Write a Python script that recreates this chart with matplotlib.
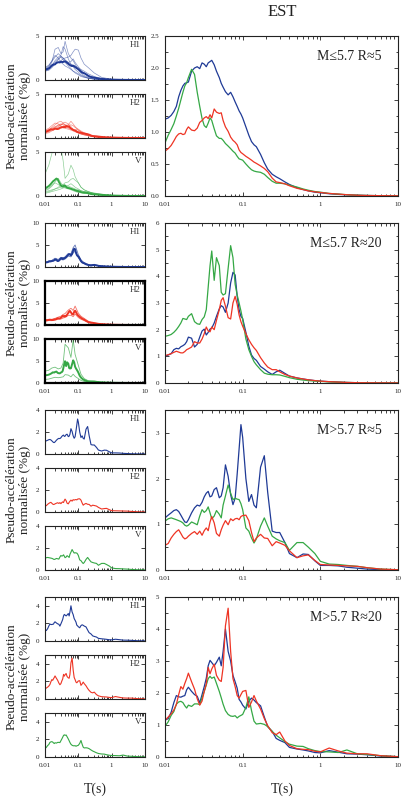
import matplotlib.pyplot as plt
from matplotlib.ticker import LogLocator, NullFormatter, MultipleLocator

plt.rcParams['font.family'] = ['Liberation Serif', 'DejaVu Serif']

# periods (s)
T = [0.01, 0.011, 0.012, 0.013, 0.014, 0.015, 0.016, 0.017, 0.018, 0.019,
     0.02, 0.022, 0.024, 0.026, 0.028, 0.03, 0.032, 0.034, 0.036, 0.038,
     0.04, 0.043, 0.046, 0.05, 0.053, 0.056, 0.06, 0.065, 0.07, 0.075,
     0.08, 0.085, 0.09, 0.095, 0.1, 0.11, 0.12, 0.13, 0.14, 0.15,
     0.17, 0.19, 0.21, 0.24, 0.27, 0.3, 0.35, 0.4, 0.5, 0.6,
     0.7, 0.85, 1.0, 1.3, 1.7, 2.2, 3, 4, 6, 10]

# coarse periods for single records / bands
Tc = [0.01, 0.013, 0.016, 0.02, 0.025, 0.03, 0.035, 0.04, 0.05, 0.06, 0.07,
      0.08, 0.1, 0.12, 0.15, 0.2, 0.3, 0.5, 1, 2, 5, 10]

# ---- M<=5.7 R~5
g1_h1 = [1.20, 1.22, 1.26, 1.32, 1.40, 1.55, 1.65, 1.72, 1.76, 1.77,
         1.78, 1.95, 2.00, 2.02, 1.99, 2.08, 2.06, 2.02, 2.08, 2.10,
         2.12, 2.05, 1.95, 1.85, 1.76, 1.70, 1.63, 1.58, 1.62, 1.55,
         1.47, 1.40, 1.33, 1.28, 1.22, 1.08, 0.95, 0.85, 0.80, 0.77,
         0.65, 0.52, 0.42, 0.34, 0.30, 0.27, 0.22, 0.18, 0.13, 0.10,
         0.08, 0.06, 0.05, 0.035, 0.025, 0.018, 0.012, 0.008, 0.005, 0.003]
g1_h2 = [0.70, 0.74, 0.79, 0.86, 0.93, 0.97, 0.98, 0.96, 0.97, 1.04,
         1.08, 1.03, 1.02, 1.06, 1.15, 1.18, 1.22, 1.24, 1.21, 1.27,
         1.22, 1.36, 1.31, 1.29, 1.30, 1.18, 1.08, 1.01, 0.92, 0.87,
         0.84, 0.80, 0.72, 0.68, 0.66, 0.62, 0.59, 0.56, 0.53, 0.51,
         0.47, 0.43, 0.38, 0.28, 0.22, 0.21, 0.19, 0.16, 0.12, 0.10,
         0.08, 0.065, 0.055, 0.04, 0.03, 0.02, 0.012, 0.008, 0.005, 0.003]
g1_v = [0.83, 0.95, 1.04, 1.13, 1.25, 1.37, 1.50, 1.62, 1.72, 1.77,
        1.85, 1.98, 1.90, 1.62, 1.40, 1.21, 1.10, 1.07, 1.14, 1.22,
        1.18, 1.05, 0.94, 0.90, 0.90, 0.87, 0.82, 0.78, 0.74, 0.70,
        0.67, 0.62, 0.58, 0.57, 0.56, 0.50, 0.45, 0.41, 0.39, 0.38,
        0.37, 0.34, 0.29, 0.23, 0.20, 0.20, 0.19, 0.17, 0.14, 0.11,
        0.09, 0.07, 0.06, 0.04, 0.03, 0.02, 0.012, 0.008, 0.005, 0.003]

# single records, M<=5.7 R~5
rec_h1 = [
    [1.2, 1.5, 2.0, 3.5, 3.7, 3.0, 3.2, 4.4, 3.0, 2.5, 2.2, 1.8, 1.2, 0.8, 0.5, 0.3, 0.15, 0.08, 0.03, 0.01, 0, 0],
    [1.0, 1.2, 1.6, 2.2, 2.6, 2.8, 3.8, 3.5, 2.4, 1.8, 1.5, 1.2, 0.9, 0.6, 0.4, 0.2, 0.1, 0.05, 0.02, 0.01, 0, 0],
    [1.1, 1.3, 1.5, 1.8, 2.0, 2.2, 2.4, 2.5, 2.6, 2.8, 3.2, 3.5, 3.4, 2.5, 1.8, 1.4, 0.8, 0.3, 0.08, 0.02, 0, 0],
    [1.3, 1.6, 2.2, 2.8, 2.5, 2.0, 1.8, 1.6, 1.4, 1.2, 1.0, 0.9, 0.7, 0.5, 0.35, 0.2, 0.1, 0.05, 0.02, 0.01, 0, 0],
    [1.0, 1.1, 1.4, 1.8, 2.3, 2.7, 2.5, 2.2, 2.0, 2.1, 2.4, 2.0, 1.5, 1.1, 0.8, 0.5, 0.3, 0.12, 0.04, 0.01, 0, 0],
    [1.2, 1.4, 1.7, 2.0, 2.4, 2.6, 2.3, 2.0, 1.6, 1.3, 1.0, 0.8, 0.6, 0.4, 0.3, 0.2, 0.1, 0.05, 0.02, 0.01, 0, 0],
    [1.4, 1.7, 2.1, 2.6, 3.0, 2.7, 2.5, 2.3, 2.0, 1.8, 1.7, 1.6, 1.4, 1.2, 1.0, 0.7, 0.4, 0.15, 0.04, 0.01, 0, 0],
]
rec_h2 = [
    [0.7, 0.9, 1.2, 1.5, 1.8, 1.9, 1.7, 1.5, 1.3, 1.1, 0.9, 0.8, 0.6, 0.5, 0.4, 0.3, 0.15, 0.08, 0.03, 0.01, 0, 0],
    [0.8, 1.0, 1.1, 1.3, 1.4, 1.5, 1.7, 1.8, 1.6, 1.3, 1.0, 0.8, 0.6, 0.45, 0.35, 0.25, 0.12, 0.05, 0.02, 0.01, 0, 0],
    [0.5, 0.6, 0.8, 1.0, 1.2, 1.3, 1.3, 1.4, 1.5, 1.9, 1.6, 1.3, 0.9, 0.7, 0.5, 0.35, 0.2, 0.08, 0.03, 0.01, 0, 0],
    [0.6, 0.8, 1.0, 1.2, 1.5, 1.6, 1.5, 1.3, 1.1, 1.0, 0.9, 1.0, 0.9, 0.7, 0.5, 0.3, 0.15, 0.06, 0.02, 0.01, 0, 0],
    [0.9, 1.1, 1.4, 1.7, 1.6, 1.4, 1.2, 1.1, 1.0, 0.9, 0.8, 0.7, 0.55, 0.45, 0.35, 0.25, 0.12, 0.05, 0.02, 0.01, 0, 0],
    [0.6, 0.7, 0.9, 1.1, 1.3, 1.5, 1.6, 1.5, 1.4, 1.5, 1.4, 1.2, 1.0, 0.8, 0.6, 0.4, 0.2, 0.08, 0.03, 0.01, 0, 0],
]
rec_v = [
    [2.5, 3.5, 4.8, 6.0, 6.5, 5.5, 4.0, 2.0, 2.5, 3.5, 3.0, 2.2, 1.5, 1.0, 0.7, 0.5, 0.25, 0.1, 0.03, 0.01, 0, 0],
    [0.6, 0.8, 1.1, 1.6, 2.0, 1.5, 1.2, 1.0, 0.9, 0.8, 0.7, 0.6, 0.5, 0.4, 0.35, 0.3, 0.15, 0.06, 0.02, 0.01, 0, 0],
    [0.4, 0.5, 0.6, 0.8, 1.0, 1.2, 1.3, 1.5, 1.6, 1.9, 2.0, 1.8, 1.5, 1.0, 0.7, 0.5, 0.3, 0.15, 0.05, 0.01, 0, 0],
    [0.5, 0.6, 0.7, 0.8, 0.9, 1.0, 1.1, 1.2, 1.1, 1.0, 0.9, 0.8, 0.7, 0.6, 0.5, 0.45, 0.35, 0.2, 0.08, 0.02, 0, 0],
    [0.7, 0.9, 1.2, 1.5, 1.3, 1.1, 1.0, 0.9, 0.8, 0.7, 0.6, 0.5, 0.4, 0.35, 0.3, 0.25, 0.15, 0.07, 0.02, 0.01, 0, 0],
    [0.3, 0.4, 0.5, 0.6, 0.7, 0.8, 0.9, 1.0, 1.2, 1.4, 1.2, 1.0, 0.8, 0.6, 0.5, 0.4, 0.25, 0.1, 0.03, 0.01, 0, 0],
]

# ---- M<=5.7 R~20
g2_h1 = [1.00, 1.05, 1.10, 1.25, 1.30, 1.28, 1.36, 1.40, 1.45, 1.55,
         1.72, 1.68, 1.35, 1.45, 1.72, 1.95, 2.02, 1.80, 1.90, 2.02,
         2.06, 2.25, 2.50, 2.78, 2.90, 2.85, 2.65, 3.00, 3.75, 4.15,
         4.05, 3.25, 2.75, 2.50, 2.42, 1.90, 1.38, 1.05, 0.92, 0.85,
         0.62, 0.52, 0.42, 0.32, 0.42, 0.48, 0.36, 0.26, 0.19, 0.15,
         0.12, 0.09, 0.07, 0.05, 0.035, 0.02, 0.012, 0.008, 0.005, 0.003]
g2_h2 = [1.03, 1.06, 1.10, 1.15, 1.19, 1.16, 1.13, 1.13, 1.18, 1.25,
         1.28, 1.35, 1.55, 1.50, 1.50, 1.65, 1.85, 2.10, 1.95, 1.92,
         2.10, 2.00, 2.35, 2.75, 3.10, 3.20, 2.88, 2.45, 2.40, 3.00,
         3.25, 2.95, 2.55, 2.30, 2.13, 1.85, 1.62, 1.45, 1.32, 1.22,
         0.95, 0.75, 0.60, 0.50, 0.50, 0.42, 0.32, 0.26, 0.19, 0.15,
         0.12, 0.09, 0.07, 0.05, 0.035, 0.02, 0.012, 0.008, 0.005, 0.003]
g2_v = [1.75, 1.78, 1.82, 1.90, 2.00, 2.12, 2.25, 2.42, 2.40, 2.38,
        2.50, 2.60, 2.30, 2.22, 2.20, 2.38, 2.48, 2.75, 3.60, 4.40,
        4.95, 3.85, 4.70, 4.40, 3.40, 3.30, 3.35, 4.30, 5.15, 4.70,
        3.70, 3.30, 3.00, 2.70, 2.38, 1.65, 1.25, 1.00, 0.80, 0.68,
        0.50, 0.37, 0.33, 0.31, 0.31, 0.30, 0.25, 0.20, 0.14, 0.11,
        0.09, 0.07, 0.06, 0.04, 0.03, 0.02, 0.012, 0.008, 0.005, 0.003]

# upper / lower curves, M<=5.7 R~20
g2_h1_up = [1.1, 1.35, 1.5, 2.0, 1.7, 2.2, 2.1, 2.3, 3.1, 3.0, 4.4, 5.0, 2.8, 1.6, 1.0, 0.55, 0.55, 0.23, 0.09, 0.04, 0.01, 0.005]
g2_h1_lo = [0.9, 1.15, 1.25, 1.5, 1.25, 1.7, 1.6, 1.8, 2.5, 2.3, 3.2, 3.6, 2.1, 1.2, 0.75, 0.38, 0.42, 0.16, 0.06, 0.025, 0.005, 0.002]
g2_h2_up = [1.15, 1.3, 1.3, 1.5, 1.8, 2.0, 2.4, 2.6, 3.4, 3.8, 3.3, 4.3, 2.7, 2.0, 1.5, 0.85, 0.5, 0.23, 0.09, 0.04, 0.01, 0.005]
g2_h2_lo = [0.9, 1.0, 0.98, 1.1, 1.3, 1.35, 1.6, 1.7, 2.2, 2.2, 1.9, 2.5, 1.7, 1.3, 1.0, 0.58, 0.35, 0.16, 0.06, 0.025, 0.005, 0.002]
g2_v_up = [2.7, 2.9, 3.4, 3.6, 3.2, 3.4, 4.5, 8.8, 8.0, 5.8, 9.8, 6.5, 4.0, 2.0, 1.0, 0.5, 0.45, 0.2, 0.09, 0.04, 0.01, 0.005]
g2_v_lo = [0.8, 0.9, 1.1, 1.3, 1.2, 1.3, 1.4, 1.9, 1.8, 1.4, 2.0, 1.5, 1.0, 0.6, 0.35, 0.18, 0.15, 0.07, 0.03, 0.015, 0.003, 0.001]

# ---- M>5.7 R~5
g3_h1 = [1.14, 1.20, 1.25, 1.30, 1.32, 1.28, 1.20, 1.12, 1.05, 1.04,
         1.10, 1.25, 1.36, 1.42, 1.40, 1.48, 1.60, 1.68, 1.72, 1.60,
         1.62, 1.76, 1.80, 1.58, 1.62, 1.80, 2.30, 2.05, 1.65, 1.43,
         1.57, 2.10, 2.65, 3.18, 2.90, 2.00, 1.50, 1.65, 1.42, 1.36,
         2.25, 2.50, 1.70, 0.85, 0.82, 0.82, 0.60, 0.36, 0.27, 0.35,
         0.34, 0.20, 0.10, 0.10, 0.09, 0.06, 0.04, 0.02, 0.01, 0.005]
g3_h2 = [0.54, 0.58, 0.70, 0.78, 0.84, 0.88, 0.80, 0.72, 0.68, 0.70,
         0.74, 0.80, 0.84, 0.78, 0.85, 0.76, 0.86, 0.92, 0.86, 1.05,
         1.17, 1.03, 0.80, 0.74, 0.88, 0.98, 1.08, 0.99, 1.12, 1.08,
         1.12, 1.13, 1.10, 1.17, 1.19, 1.20, 1.08, 0.82, 0.62, 0.70,
         0.78, 0.70, 0.69, 0.53, 0.62, 0.59, 0.54, 0.42, 0.27, 0.31,
         0.33, 0.21, 0.12, 0.11, 0.10, 0.09, 0.08, 0.05, 0.02, 0.005]
g3_v = [1.07, 1.12, 1.14, 1.12, 1.10, 1.08, 1.06, 1.03, 0.98, 0.96,
        0.98, 1.05, 1.02, 0.99, 1.18, 1.32, 1.26, 1.30, 1.38, 1.25,
        1.12, 1.18, 1.30, 1.22, 1.14, 1.42, 1.62, 1.86, 1.68, 1.54,
        1.57, 1.55, 1.54, 1.45, 1.32, 0.92, 0.85, 0.70, 0.59, 0.68,
        0.96, 1.14, 0.96, 0.74, 0.68, 0.64, 0.60, 0.43, 0.60, 0.60,
        0.50, 0.36, 0.19, 0.13, 0.12, 0.10, 0.08, 0.05, 0.02, 0.005]

# ---- M>5.7 R~20
g4_h1 = [1.15, 1.20, 1.40, 1.70, 1.92, 1.88, 1.87, 1.90, 1.92, 2.10,
         2.18, 2.05, 1.95, 1.90, 1.69, 1.95, 2.20, 2.46, 2.85, 3.02,
         2.95, 2.85, 2.96, 3.12, 2.85, 3.30, 4.00, 3.30, 3.00, 2.55,
         2.35, 2.15, 1.80, 1.72, 1.62, 1.50, 1.75, 1.84, 1.78, 1.70,
         1.60, 1.25, 0.95, 0.80, 0.58, 0.52, 0.45, 0.30, 0.25, 0.22,
         0.19, 0.14, 0.13, 0.20, 0.15, 0.10, 0.09, 0.07, 0.03, 0.01]
g4_h2 = [1.15, 1.25, 1.35, 1.47, 1.64, 1.95, 2.20, 2.12, 2.30, 2.45,
         2.62, 2.35, 2.12, 1.82, 1.62, 1.75, 2.05, 2.28, 2.80, 2.60,
         2.75, 2.90, 2.55, 2.40, 2.36, 2.80, 4.10, 4.65, 3.30, 2.45,
         2.20, 1.92, 1.84, 1.95, 2.05, 2.08, 1.55, 1.72, 1.92, 1.75,
         1.50, 1.20, 0.98, 0.76, 0.70, 0.78, 0.50, 0.36, 0.26, 0.24,
         0.23, 0.18, 0.16, 0.28, 0.19, 0.12, 0.10, 0.10, 0.04, 0.01]
g4_v = [0.96, 1.10, 1.30, 1.42, 1.65, 1.72, 1.74, 1.70, 1.60, 1.53,
        1.62, 1.58, 1.66, 1.66, 1.64, 1.85, 2.05, 2.25, 2.45, 2.52,
        2.46, 2.50, 2.30, 2.05, 1.85, 1.65, 1.45, 1.33, 1.28, 1.27,
        1.29, 1.22, 1.27, 1.30, 1.33, 1.55, 1.88, 1.45, 1.12, 1.03,
        1.05, 1.02, 0.95, 0.80, 0.68, 0.60, 0.48, 0.40, 0.34, 0.33,
        0.26, 0.20, 0.17, 0.16, 0.14, 0.22, 0.10, 0.08, 0.04, 0.01]

titles = ['M≤5.7 R≈5', 'M≤5.7 R≈20', 'M>5.7 R≈5', 'M>5.7 R≈20']
big_ylim = [2.5, 6, 3.5, 5]
big_major = [0.5, 1, 1, 1]
small_ylim = [5, 10, 4, 5]
small_ticks = [[0, 5], [0, 5, 10], [0, 2, 4], [0, 2, 4]]

BLUE = '#1f3a96'
RED = '#ee3424'
GREEN = '#35a845'
W, H = 405, 800


def px_axes(fig, x, y, w, h):
    return fig.add_axes([x / W, 1 - (y + h) / H, w / W, h / H])


def style(ax, ymax, show_x):
    ax.set_xscale('log')
    ax.set_xlim(0.01, 10)
    ax.set_ylim(0, ymax)
    ax.set_xticks([0.01, 0.1, 1, 10])
    ax.xaxis.set_minor_locator(LogLocator(base=10, subs=range(2, 10)))
    ax.xaxis.set_minor_formatter(NullFormatter())
    if show_x:
        ax.set_xticklabels(['0.01', '0.1', '1', '10'])
    else:
        ax.set_xticklabels([])
    ax.tick_params(which='both', direction='in', top=True, right=True,
                   labelsize=5, width=0.6, pad=4, colors='#222222')
    ax.tick_params(which='major', length=3.2)
    ax.tick_params(which='minor', length=1.8)
    for s in ax.spines.values():
        s.set_linewidth(0.8)
        s.set_color('#222222')


fig = plt.figure(figsize=(4.05, 8), dpi=100)

tops = [36, 223, 410, 597]
big = [(g1_h1, g1_h2, g1_v), (g2_h1, g2_h2, g2_v),
       (g3_h1, g3_h2, g3_v), (g4_h1, g4_h2, g4_v)]
cols = [BLUE, RED, GREEN]
comp = ['H1', 'H2', 'V']

for g in range(4):
    t = tops[g]
    # big panel
    ax = px_axes(fig, 165, t, 233, 160)
    ax.plot(T, big[g][0], color=BLUE, lw=0.9)
    ax.plot(T, big[g][2], color=GREEN, lw=0.9)
    ax.plot(T, big[g][1], color=RED, lw=0.9)
    style(ax, big_ylim[g], True)
    ax.yaxis.set_major_locator(MultipleLocator(big_major[g]))
    ax.yaxis.set_minor_locator(MultipleLocator(big_major[g] / 2))
    ax.text(0.93, 0.87, titles[g], transform=ax.transAxes, ha='right',
            va='center', fontsize=10, color='#222222')

    # small panels
    for k in range(3):
        sa = px_axes(fig, 45, t + 58 * k, 100, 44)
        c = cols[k]
        if g == 0:
            recs = [rec_h1, rec_h2, rec_v][k]
            for r in recs:
                sa.plot(Tc, r, color=c, lw=0.5, alpha=0.55)
            sa.plot(T, big[g][k], color=c, lw=1.4)
        elif g == 1:
            up = [g2_h1_up, g2_h2_up, g2_v_up][k]
            lo = [g2_h1_lo, g2_h2_lo, g2_v_lo][k]
            sa.plot(Tc, up, color=c, lw=0.6, alpha=0.7)
            sa.plot(Tc, lo, color=c, lw=0.6, alpha=0.7)
            sa.plot(T, big[g][k], color=c, lw=1.4)
        else:
            sa.plot(T, big[g][k], color=c, lw=0.8)
        style(sa, small_ylim[g], k == 2)
        sa.set_yticks(small_ticks[g])
        if g == 1 and k > 0:
            for s in sa.spines.values():
                s.set_linewidth(1.6)
                s.set_color('black')
        sa.text(0.96, 0.8, comp[k], transform=sa.transAxes, ha='right',
                va='center', fontsize=6.5, color='#333333')

    fig.text(0.045, 1 - (t + 80) / H, 'Pseudo-accélération\nnormalisée (%g)',
             rotation=90, ha='center', va='center', fontsize=9.5,
             color='#222222', linespacing=1.2)

fig.text(282 / W, 1 - 12 / H, 'EST', ha='center', va='center', fontsize=12,
         color='#222222')
fig.text(95 / W, 1 - 789 / H, 'T(s)', ha='center', va='center', fontsize=10,
         color='#222222')
fig.text(282 / W, 1 - 789 / H, 'T(s)', ha='center', va='center', fontsize=10,
         color='#222222')

fig.savefig('out.png', dpi=100)
